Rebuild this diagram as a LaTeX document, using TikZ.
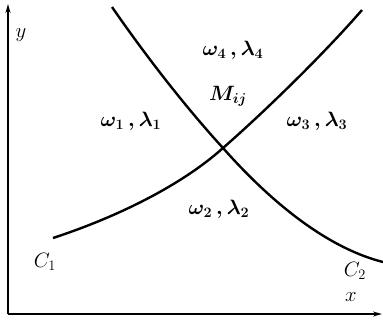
\documentclass[tikz,border=0pt]{standalone}
\usetikzlibrary{arrows.meta}
\begin{document}
\begin{tikzpicture}[x=1pt,y=-1pt,
  curve/.style={line width=2.4pt},
  axis/.style={line width=1.4pt,-{Stealth[length=9pt,width=5pt]}},
  lab/.style={font=\fontsize{21}{23}\selectfont\boldmath},
  alab/.style={font=\fontsize{20}{22}\selectfont}]
\useasboundingbox (0,0) rectangle (383,325);
\coordinate (O) at (8,314);
\coordinate (Y) at (8,4);
\coordinate (X) at (382,314);
\draw[axis] (O) -- (Y);
\draw[axis] (O) -- (X);
\coordinate (a1) at (53,238);
\coordinate (M) at (223,148);
\coordinate (b1) at (362,10);
\coordinate (a2) at (112,7);
\coordinate (b2) at (383,262);
\draw[curve] (a1) .. controls (120,216) and (183,184) .. (M)
  .. controls (262,114) and (322,56) .. (b1);
\draw[curve] (a2) .. controls (150,62) and (190,112) .. (M)
  .. controls (262,192) and (320,246) .. (b2);
\node[alab] (ly) at (21,35) {$y$};
\node[alab] (lx) at (351,297) {$x$};
\node[alab] (c1) at (45,262) {$C_1$};
\node[alab] (c2) at (355,271) {$C_2$};
\node[lab] (r4) at (233,50) {$\omega_4\,,\lambda_4$};
\node[lab] (mij) at (228,96) {$M_{ij}$};
\node[lab] (r1) at (131,121) {$\omega_1\,,\lambda_1$};
\node[lab] (r3) at (317,121) {$\omega_3\,,\lambda_3$};
\node[lab] (r2) at (219,209) {$\omega_2\,,\lambda_2$};
\end{tikzpicture}
\end{document}
